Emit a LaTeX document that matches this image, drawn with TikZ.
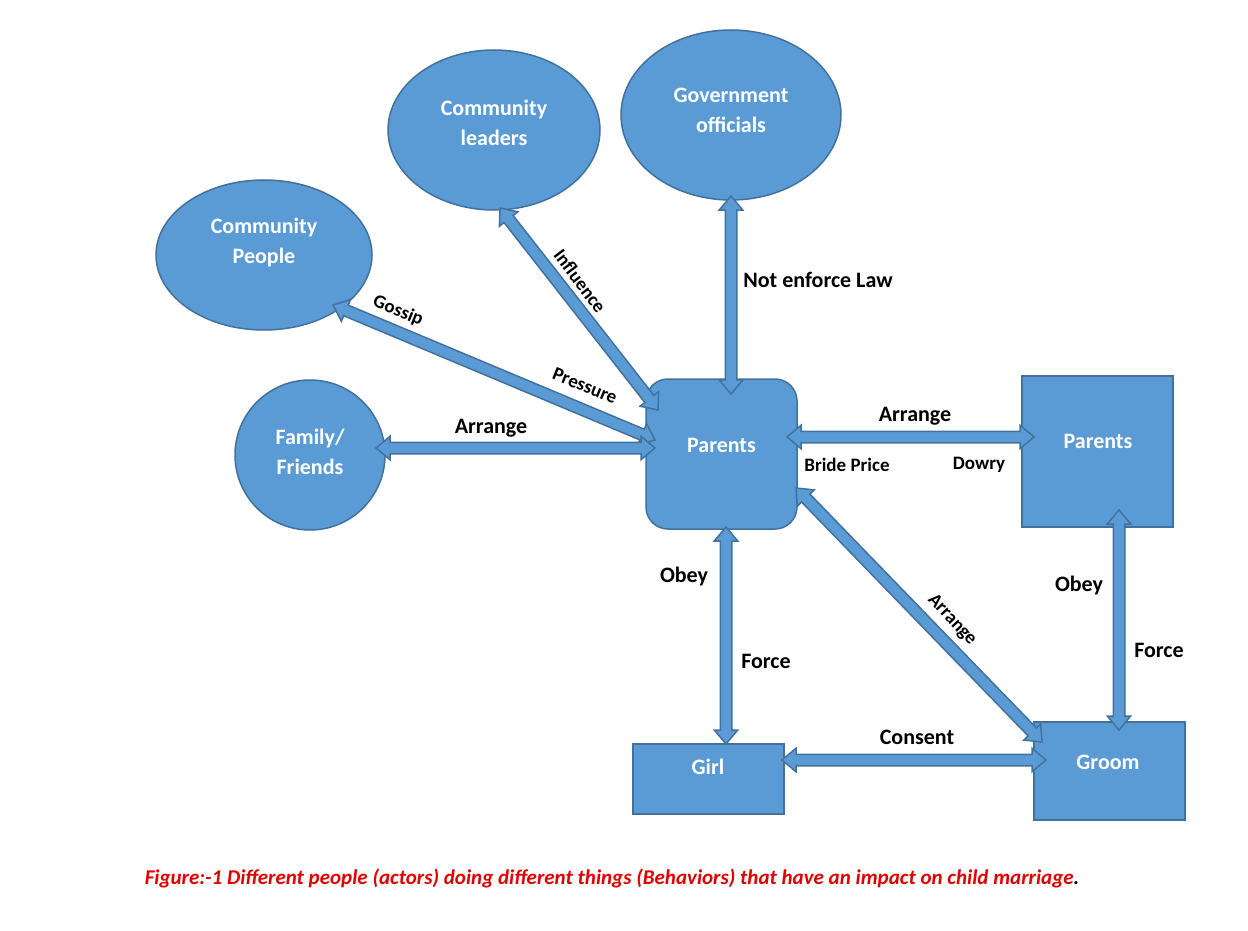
\documentclass[tikz,border=0pt]{standalone}
\usepackage{fontspec}
\setmainfont{Carlito}
\usetikzlibrary{shapes.arrows,shapes.geometric,calc}
\definecolor{fillc}{HTML}{5B9BD5}
\definecolor{edgec}{HTML}{41719C}
\definecolor{capc}{HTML}{E00000}
\newcommand{\dblarr}[2]{%
  \path let \p1=($(#2)-(#1)$), \n1={veclen(\x1,\y1)}, \n2={atan2(\y1,\x1)} in
    node[darr, minimum height=\n1, rotate=\n2] at ($(#1)!0.5!(#2)$) {};}
\begin{document}
\begin{tikzpicture}[x=1pt,y=1pt,
  actor/.style={fill=fillc, draw=edgec, line width=1.5pt},
  atext/.style={text=white, font=\fontsize{22}{30}\selectfont\bfseries, align=center},
  darr/.style={double arrow, fill=fillc, draw=edgec, line width=1.5pt, inner xsep=0pt, inner ysep=5pt, text height=0pt, text depth=0pt, double arrow head extend=6pt, double arrow tip angle=80, shape border uses incircle=false},
  lab/.style={font=\fontsize{22}{26}\selectfont\bfseries, text=black},
  slab/.style={font=\fontsize{19}{22}\selectfont\bfseries, text=black}]
\useasboundingbox (0,0) rectangle (1248,-931);
% nodes
\node[actor, ellipse, minimum width=216pt, minimum height=150pt] (cp) at (264,-255) {};
\node[atext] at (264,-243) {Community\\People};
\node[actor, ellipse, minimum width=212pt, minimum height=160pt] (cl) at (494,-130) {};
\node[atext] at (494,-123) {Community\\leaders};
\node[actor, ellipse, minimum width=220pt, minimum height=170pt] (go) at (731,-115) {};
\node[atext] at (731,-110) {Government\\officials};
\node[actor, circle, minimum size=150pt] (ff) at (310,-455) {};
\node[atext] at (310,-452) {Family/\\Friends};
\node[actor, rectangle, rounded corners=22pt, minimum width=151pt, minimum height=150pt] (pl) at (721.5,-454) {};
\node[atext] at (721.5,-445) {Parents};
\node[actor, rectangle, minimum width=151pt, minimum height=151pt] (pr) at (1097.5,-451.5) {};
\node[atext] at (1098,-441) {Parents};
\node[actor, rectangle, minimum width=151pt, minimum height=70pt] (gi) at (708.5,-779) {};
\node[atext] at (708,-767) {Girl};
\node[actor, rectangle, minimum width=151pt, minimum height=98pt] (gr) at (1109.5,-771) {};
\node[atext] at (1108,-762) {Groom};
% endpoints
\coordinate (a1) at (333,-305); \coordinate (b1) at (655,-440);
\coordinate (a2) at (500,-208); \coordinate (b2) at (658,-410);
\coordinate (a3) at (731,-196); \coordinate (b3) at (731,-394);
\coordinate (a4) at (376,-448); \coordinate (b4) at (655,-448);
\coordinate (a5) at (787,-437); \coordinate (b5) at (1034,-437);
\coordinate (a6) at (726,-527); \coordinate (b6) at (726,-744);
\coordinate (a7) at (796,-488); \coordinate (b7) at (1042,-742);
\coordinate (a8) at (1119,-510); \coordinate (b8) at (1119,-730);
\coordinate (a9) at (782,-760); \coordinate (b9) at (1046,-760);
\dblarr{a1}{b1}\dblarr{a2}{b2}\dblarr{a3}{b3}\dblarr{a4}{b4}\dblarr{a5}{b5}
\dblarr{a6}{b6}\dblarr{a7}{b7}\dblarr{a8}{b8}\dblarr{a9}{b9}
% labels
\node[slab, rotate=-22] at (398,-311) {Gossip};
\node[slab, rotate=-22] at (585,-386) {Pressure};
\node[slab, rotate=-53] at (580,-281) {Influence};
\node[lab] at (818,-280) {Not enforce Law};
\node[lab] at (491,-428) {Arrange};
\node[lab] at (915,-416) {Arrange};
\node[slab] at (847,-465) {Bride Price};
\node[slab] at (979,-465) {Dowry};
\node[lab] at (684,-577) {Obey};
\node[lab] at (766,-661) {Force};
\node[slab, rotate=-47] at (952,-620) {Arrange};
\node[lab] at (1079,-586) {Obey};
\node[lab] at (1159,-650) {Force};
\node[lab] at (917,-737) {Consent};
\node[font=\fontsize{21}{25}\selectfont\bfseries\itshape, text=capc] at (612,-878) {Figure:-1 Different people (actors) doing different things (Behaviors) that have an impact on child marriage\textcolor{black}{.}};
\end{tikzpicture}
\end{document}
